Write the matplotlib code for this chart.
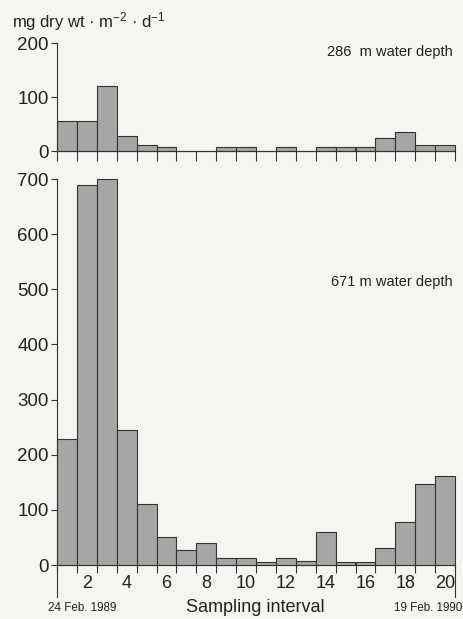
import numpy as np
import matplotlib
matplotlib.use("Agg")
import matplotlib.pyplot as plt

plt.rcParams['font.family'] = ['Liberation Sans', 'DejaVu Sans']
plt.rcParams['mathtext.fontset'] = 'custom'
plt.rcParams['mathtext.rm'] = 'Liberation Sans'
plt.rcParams['mathtext.it'] = 'Liberation Sans'

intervals = np.arange(1, 21)
flux_286 = [55, 55, 121, 27, 12, 7, 0, 0, 7, 7, 0, 7, 0, 7, 7, 7, 25, 35, 12, 12]
flux_671 = [229, 690, 700, 245, 110, 50, 28, 39, 12, 12, 6, 13, 7, 59, 5, 5, 30, 78, 146, 161]
even_labels = [2, 4, 6, 8, 10, 12, 14, 16, 18, 20]

bg = '#f5f5f2'
ink = '#222222'
bar_col = '#a6a6a6'

W, H = 463, 619
fig = plt.figure(figsize=(W / 100, H / 100), dpi=100, facecolor=bg)

left = 57 / W
width = 398 / W
ax1 = fig.add_axes([left, (H - 151) / H, width, 108 / H])
ax2 = fig.add_axes([left, (H - 565) / H, width, 386 / H])

for ax, vals, top, step, tlen in [(ax1, flux_286, 200, 100, 7), (ax2, flux_671, 700, 100, 6)]:
    ax.set_facecolor('none')
    ax.bar(intervals, vals, width=1.0, color=bar_col, edgecolor='#333333', linewidth=0.8, clip_on=False)
    ax.set_xlim(0.5, 20.5)
    ax.set_ylim(0, top)
    ax.set_yticks(np.arange(0, top + 1, step))
    ax.spines['top'].set_visible(False)
    ax.spines['right'].set_visible(False)
    for s in ['left', 'bottom']:
        ax.spines[s].set_color('#333333')
        ax.spines[s].set_linewidth(0.8)
    ax.set_xticks(np.arange(0.5, 21, 1.0))
    ax.set_xticklabels([])
    ax.tick_params(axis='x', which='major', direction='out', length=tlen, width=0.8, color='#333333')
    ax.tick_params(axis='y', direction='out', length=4, width=0.8, color='#333333',
                   labelsize=13.5, labelcolor=ink, pad=2)

ax2.set_xticks(even_labels, minor=True)
ax2.set_xticklabels([str(v) for v in even_labels], minor=True)
ax2.tick_params(axis='x', which='minor', length=0, labelsize=13, labelcolor=ink, pad=7)

# long end ticks below the lower panel
trans = ax2.get_xaxis_transform()
for xe in [0.5, 20.5]:
    ax2.plot([xe, xe], [0, -32 / 386], transform=trans, color='#333333', lw=0.8, clip_on=False)

fig.text(12 / W, 1 - 27 / H, 'mg dry wt · m$^{-2}$ · d$^{-1}$', fontsize=12, color=ink, va='baseline')
fig.text(453 / W, 1 - 52 / H, '286  m water depth', fontsize=10.5, color=ink, ha='right', va='center')
fig.text(453 / W, 1 - 282 / H, '671 m water depth', fontsize=10.5, color=ink, ha='right', va='center')
fig.text(255 / W, 1 - 607 / H, 'Sampling interval', fontsize=13, color=ink, ha='center', va='center')
fig.text(48 / W, 1 - 608 / H, '24 Feb. 1989', fontsize=8.4, color=ink, ha='left', va='center')
fig.text(462 / W, 1 - 608 / H, '19 Feb. 1990', fontsize=8.4, color=ink, ha='right', va='center')

fig.savefig('out.png', dpi=100, facecolor=bg)
